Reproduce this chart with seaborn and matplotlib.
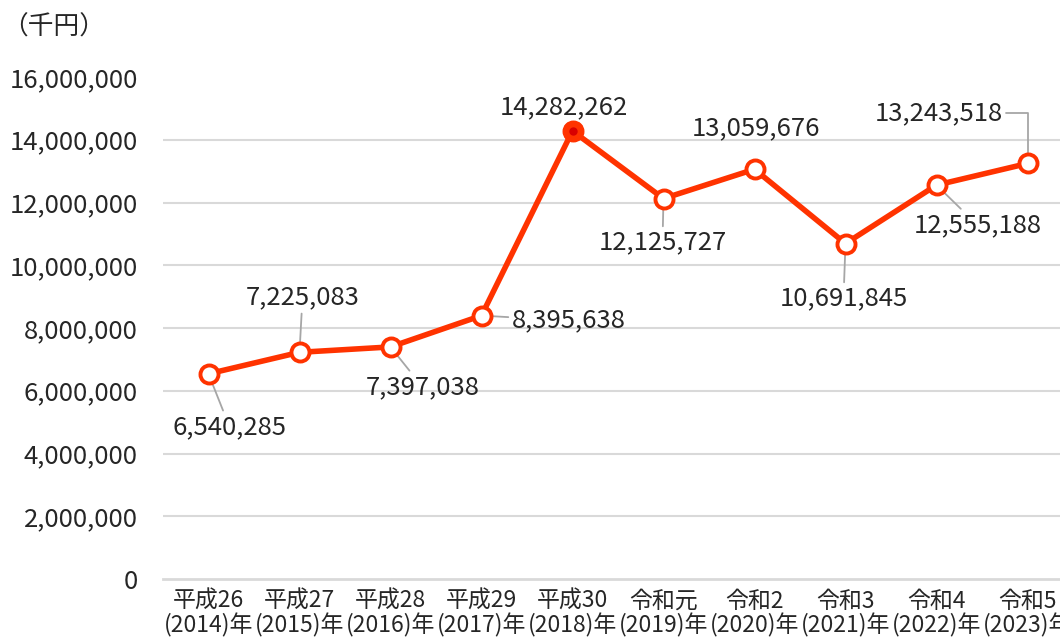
import matplotlib
matplotlib.use("Agg")
import matplotlib.pyplot as plt
import seaborn as sns
import pandas as pd

# data
eras = ['平成26', '平成27', '平成28', '平成29', '平成30',
        '令和元', '令和2', '令和3', '令和4', '令和5']
years = ['2014', '2015', '2016', '2017', '2018',
         '2019', '2020', '2021', '2022', '2023']
values = [6540285, 7225083, 7397038, 8395638, 14282262,
          12125727, 13059676, 10691845, 12555188, 13243518]
yticks = [0, 2000000, 4000000, 6000000, 8000000, 10000000,
          12000000, 14000000, 16000000]

# label offsets in pixels (dx, dy), and whether a leader line is drawn
label_offsets = [(21, -53), (3, 55), (32, -40), (87, -5), (-9, 24),
                 (-1, -44), (1, 41), (-2, -55), (41, -40), (-89, 50)]
leaders = [True, True, True, True, False, True, False, True, True, True]

sns.set_theme(style="white")
plt.rcParams['font.family'] = ['Noto Sans CJK JP', 'DejaVu Sans']

labels = [f'{e}\n({y})年' for e, y in zip(eras, years)]
df = pd.DataFrame({'label': labels, 'value': values})
df['pos'] = range(len(df))

red = '#FF3300'
fig = plt.figure(figsize=(10.6, 6.39), dpi=100)
ax = fig.add_axes([163 / 1060, 60 / 639, 910 / 1060, 502 / 639])

sns.lineplot(data=df, x='pos', y='value', ax=ax, color=red, linewidth=4,
             marker='o', markersize=13, markerfacecolor='white',
             markeredgecolor=red, markeredgewidth=2.8, zorder=3)

# highlighted point (2018)
hi = 4
ax.plot(df['pos'][hi], df['value'][hi], marker='o', markersize=14,
        markerfacecolor=red, markeredgecolor=red, zorder=4)
ax.plot(df['pos'][hi], df['value'][hi], marker='o', markersize=5,
        markerfacecolor='#D90000', markeredgecolor='#D90000', zorder=5)

for i, (p, v) in enumerate(zip(df['pos'], df['value'])):
    dx, dy = label_offsets[i]
    arrow = None
    if leaders[i]:
        arrow = dict(arrowstyle='-', color='#A6A6A6', lw=1.3,
                     shrinkA=0, shrinkB=0)
        if i == 9:
            arrow['connectionstyle'] = 'angle,angleA=0,angleB=90,rad=0'
            arrow['relpos'] = (1.0, 0.5)
    ax.annotate(f'{v:,}', xy=(p, v), xytext=(dx, dy),
                textcoords='offset pixels', ha='center', va='center',
                fontsize=18.5, color='#262626', arrowprops=arrow, zorder=2)

ax.set_xlim(-0.5, len(df) - 0.5)
ax.set_ylim(0, 16000000)
ax.set_xticks(df['pos'])
ax.set_xticklabels(df['label'], fontsize=16.5, color='#262626',
                   linespacing=1.0)
ax.set_yticks(yticks)
ax.set_yticklabels([f'{t:,}' for t in yticks], fontsize=18.5, color='#262626')
ax.tick_params(axis='x', length=0, pad=8)
ax.tick_params(axis='y', length=0, pad=18)

for y in yticks[1:-1]:
    ax.axhline(y, color='#D9D9D9', lw=1.5, zorder=1)
for s in ['top', 'right', 'left']:
    ax.spines[s].set_visible(False)
ax.spines['bottom'].set_color('#D9D9D9')
ax.spines['bottom'].set_linewidth(2)
ax.set_xlabel('')
ax.set_ylabel('')

fig.text(2 / 1060, 1 - 28 / 639, '（千円）', fontsize=18.5, color='#262626',
         ha='left', va='center')

fig.savefig('out.png', dpi=100)
